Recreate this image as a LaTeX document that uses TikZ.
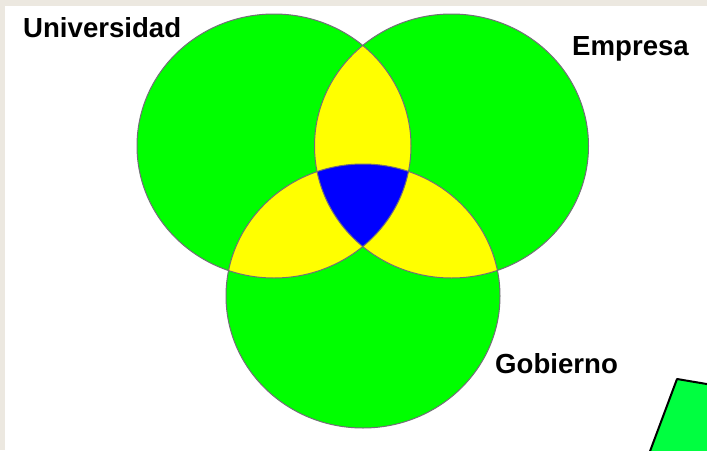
\documentclass[tikz,border=0pt]{standalone}
\usepackage{fontspec}
\setmainfont{Liberation Sans}
\definecolor{pagebeige}{RGB}{236,232,224}
\definecolor{venngreen}{RGB}{0,255,0}
\definecolor{vennyellow}{RGB}{255,255,0}
\definecolor{vennblue}{RGB}{0,0,255}
\definecolor{boxgreen}{RGB}{0,255,64}
\definecolor{edgegray}{RGB}{115,110,120}
\def\univset{(274,146) ellipse [x radius=137,y radius=132]}
\def\empset{(451.5,146) ellipse [x radius=137,y radius=132]}
\def\gobset{(363,296) ellipse [x radius=137,y radius=132]}

\begin{document}
\begin{tikzpicture}[x=1pt,y=-1pt,
 setlabel/.style={font=\fontsize{27.6}{30}\selectfont\bfseries,inner sep=0pt,anchor=base west},
 setedge/.style={draw=edgegray,line width=1pt}
]
\useasboundingbox (0,0) rectangle (707,450);
\fill[pagebeige] (0,0) rectangle (707,450);
\fill[white] (5,6) rectangle (707,450);
% corner of the box at the bottom right
\begin{scope}
\clip (0,0) rectangle (707,450);
\filldraw[fill=boxgreen,draw=black,line width=2pt,line join=round]
  (643,470) -- (677,379) -- (760,393) -- (760,470) -- cycle;
\end{scope}
% the three sets
\fill[venngreen] \univset;
\fill[venngreen] \empset;
\fill[venngreen] \gobset;
\begin{scope}
\clip \univset;
\fill[vennyellow] \empset;
\fill[vennyellow] \gobset;
\end{scope}
\begin{scope}
\clip \empset;
\fill[vennyellow] \gobset;
\end{scope}
\begin{scope}
\clip \univset;
\clip \empset;
\fill[vennblue] \gobset;
\end{scope}
\draw[setedge] \univset;
\draw[setedge] \empset;
\draw[setedge] \gobset;
% labels
\node[setlabel] (universidad) at (23,37) {Universidad};
\node[setlabel] (empresa) at (572,55) {Empresa};
\node[setlabel] (gobierno) at (495,373) {Gobierno};
\end{tikzpicture}
\end{document}
